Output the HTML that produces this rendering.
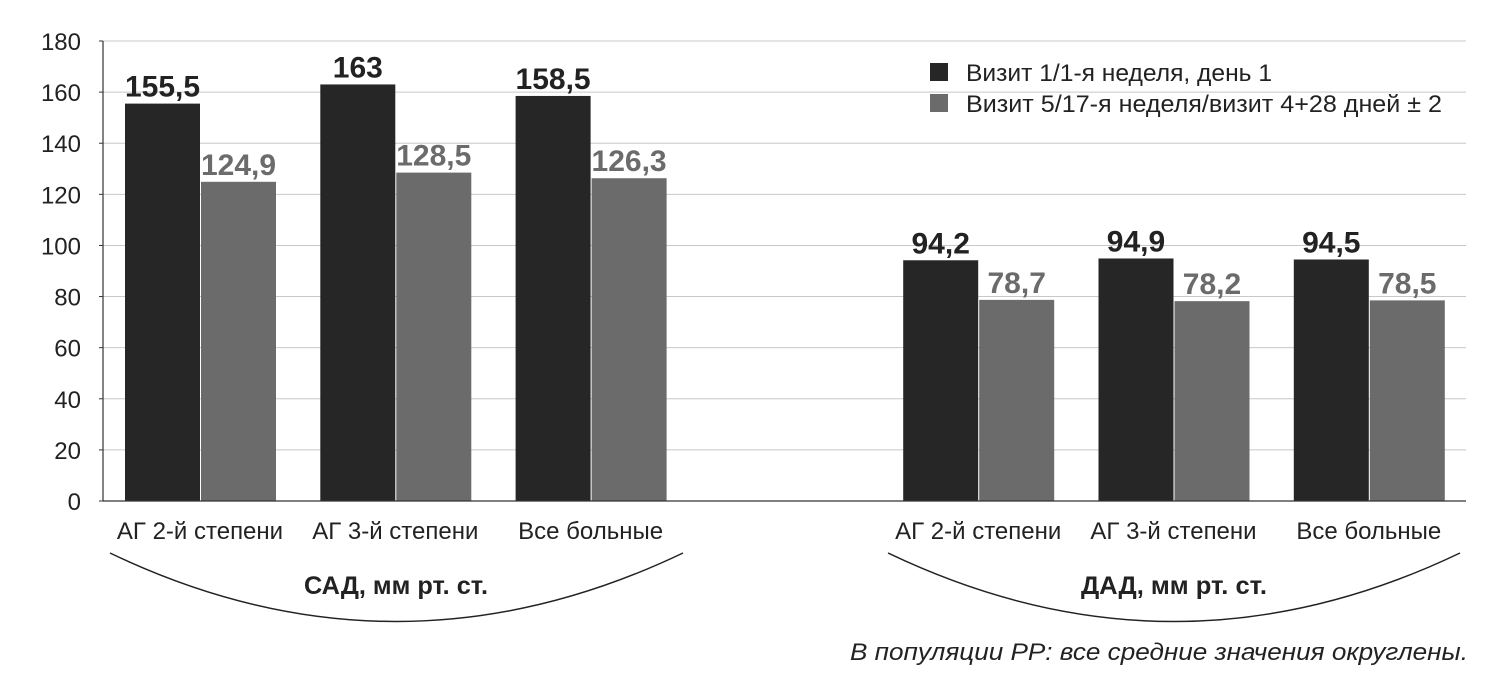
<!DOCTYPE html>
<html><head><meta charset="utf-8">
<style>
body{margin:0;background:#fff;}
svg{display:block;font-family:"Liberation Sans Narrow","Liberation Sans",sans-serif;}
</style></head>
<body>
<svg id="chart" width="1508" height="685" viewBox="0 0 1508 685" xmlns="http://www.w3.org/2000/svg">
<g id="grid"></g>
<g id="yaxis"></g>
<g id="bars"></g>
<g id="xaxis"></g>
<g>
  <rect x="930" y="63" width="18" height="18" fill="#262626"/>
  <text x="966" y="81" font-size="24" fill="#222" textLength="306" lengthAdjust="spacingAndGlyphs">Визит 1/1-я неделя, день 1</text>
  <rect x="930" y="94" width="18" height="18" fill="#6b6b6b"/>
  <text x="966" y="112" font-size="24" fill="#222" textLength="476" lengthAdjust="spacingAndGlyphs">Визит 5/17-я неделя/визит 4+28 дней ± 2</text>
</g>
<path d="M110,553 Q396,690 683,553" fill="none" stroke="#222" stroke-width="1.5"/>
<path d="M888,553 Q1174,690 1460,553" fill="none" stroke="#222" stroke-width="1.5"/>
<text x="396" y="594" font-size="25" font-weight="bold" text-anchor="middle" fill="#222" textLength="184" lengthAdjust="spacingAndGlyphs">САД, мм рт. ст.</text>
<text x="1174" y="594" font-size="25" font-weight="bold" text-anchor="middle" fill="#222" textLength="186" lengthAdjust="spacingAndGlyphs">ДАД, мм рт. ст.</text>
<text x="1468" y="660" font-size="24" font-style="italic" text-anchor="end" fill="#222" textLength="618" lengthAdjust="spacingAndGlyphs">В популяции PP: все средние значения округлены.</text>
</svg>
<script>
const categories=["АГ 2-й степени","АГ 3-й степени","Все больные","","АГ 2-й степени","АГ 3-й степени","Все больные"];
const visit1=[155.5,163,158.5,null,94.2,94.9,94.5];
const visit5=[124.9,128.5,126.3,null,78.7,78.2,78.5];
const visit1Labels=["155,5","163","158,5","","94,2","94,9","94,5"];
const visit5Labels=["124,9","128,5","126,3","","78,7","78,2","78,5"];
const yTicks=[0,20,40,60,80,100,120,140,160,180];
const NS="http://www.w3.org/2000/svg";
const x0=103,y0=501,yTop=41,yMax=180;
const slotW=195.3;
function y(v){return y0-(v/yMax)*(y0-yTop);}
function xc(i){return 200+slotW*i-(i>=3?3:0);}
function mk(tag,attrs,parent){const e=document.createElementNS(NS,tag);for(const k in attrs)e.setAttribute(k,attrs[k]);parent.appendChild(e);return e;}
const grid=document.getElementById('grid'),ya=document.getElementById('yaxis'),bars=document.getElementById('bars'),xa=document.getElementById('xaxis');
yTicks.forEach(t=>{
  if(t>0){const g=mk('line',{x1:x0,x2:1466,y1:y(t),y2:y(t),stroke:'#c8c8c8','stroke-width':1},grid);
  
  }
  const tk=mk('line',{x1:x0-4,x2:x0,y1:y(t),y2:y(t),stroke:'#333'},ya);
  
  
  const tx=mk('text',{x:x0-22,y:y(t)+9,'font-size':24,'text-anchor':'end',fill:'#222'},ya);
  tx.textContent=t;
  
  
});
const ax=mk('line',{x1:x0,x2:x0,y1:yTop,y2:y0,stroke:'#333','stroke-width':1.2},ya);


const bl=mk('line',{x1:x0,x2:1466,y1:y0,y2:y0,stroke:'#333','stroke-width':1.2},xa);


categories.forEach((c,i)=>{
  if(visit1[i]===null)return;
  const cx=xc(i),bw=75;
  const b1=mk('rect',{x:cx-bw,y:y(visit1[i]),width:bw,height:y0-y(visit1[i]),fill:'#262626'},bars);
  
  
  const b2=mk('rect',{x:cx+1,y:y(visit5[i]),width:bw,height:y0-y(visit5[i]),fill:'#6b6b6b'},bars);
  
  
  const l1=mk('text',{x:cx-bw/2,y:y(visit1[i])-7,'font-size':30,'font-weight':'bold','text-anchor':'middle',fill:'#222'},bars);
  l1.textContent=visit1Labels[i];
  
  
  const l2=mk('text',{x:cx+bw/2+1,y:y(visit5[i])-7,'font-size':30,'font-weight':'bold','text-anchor':'middle',fill:'#6b6b6b'},bars);
  l2.textContent=visit5Labels[i];
  
  
  const cl=mk('text',{x:cx,y:539,'font-size':24,'text-anchor':'middle',fill:'#222'},xa);
  cl.textContent=c;
  
  
});
</script>
</body></html>
